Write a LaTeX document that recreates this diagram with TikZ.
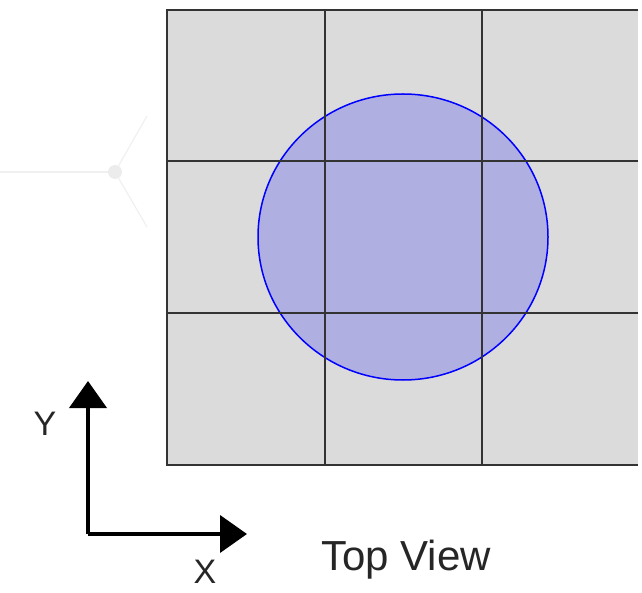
\documentclass[tikz,border=0pt]{standalone}
\usepackage{fontspec}
\setmainfont{Liberation Sans}
\usetikzlibrary{arrows.meta}
\tikzset{
    gridline/.style={black!80, line width=1.8pt},
    faint/.style={gray!12, line width=1.2pt},
    axis/.style={black, line width=4pt, -{Triangle[length=27pt, width=37pt]}},
    axislabel/.style={font=\fontsize{34}{40}\selectfont, text=black!85, inner sep=0pt}
}
\begin{document}
\begin{tikzpicture}[x=1pt, y=-1pt]
        \useasboundingbox (0,0) rectangle (642,593);

        % Faint hub on the left
        \node[circle, fill=gray!15, inner sep=0pt, minimum size=14pt] (hub) at (115,172) {};
        \coordinate (hubW) at (0,172);
        \coordinate (hubNE) at (147,116);
        \coordinate (hubSE) at (147,227);
        \draw[faint] (hub) -- (hubW);
        \draw[faint] (hub) -- (hubNE);
        \draw[faint] (hub) -- (hubSE);

        % Plate
        \fill[gray!28] (167,10) rectangle (638,465);

        % Disc
        \draw[blue, line width=1.5pt, fill=blue, fill opacity=0.2] (403,237) circle[x radius=145, y radius=143];

        % Grid lines
        \foreach \x in {325, 482} {
            \draw[gridline] (\x,10) -- (\x,465);
        }
        \foreach \y in {161, 313} {
            \draw[gridline] (167,\y) -- (638,\y);
        }
        \draw[gridline] (638,10) -- (167,10) -- (167,465) -- (638,465);

        % Axes
        \coordinate (origin) at (88,534);
        \coordinate (ytip) at (88,381);
        \coordinate (xtip) at (247,534);
        \draw[axis, line join=round] (origin) -- (ytip);
        \draw[axis] (origin) -- (xtip);
        \node[axislabel] (ylabel) at (45,424) {Y};
        \node[axislabel] (xlabel) at (205,572) {X};

        % Caption
        \node[font=\fontsize{42}{48}\selectfont, text=black!85] (caption) at (406,560) {Top View};
\end{tikzpicture}
\end{document}
